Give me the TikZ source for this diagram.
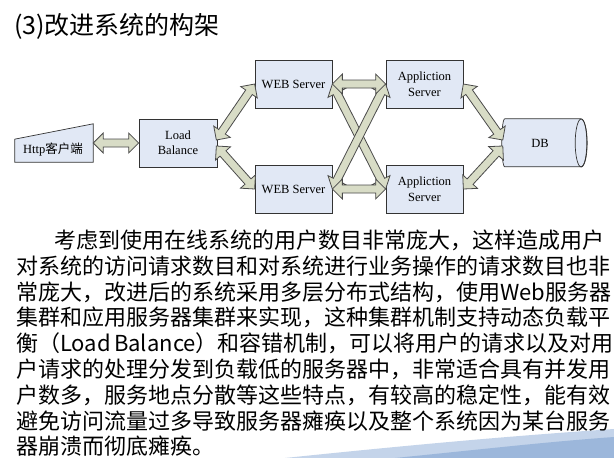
\documentclass[tikz,border=0pt]{standalone}
\usepackage{fontspec}
\setmainfont{Liberation Serif}
\newfontfamily\cjk{Noto Sans CJK SC}
\usetikzlibrary{calc}
\XeTeXlinebreaklocale "zh"
\XeTeXlinebreakskip=0pt plus 3pt
\definecolor{boxfill}{HTML}{E1E8F5}
\definecolor{arrfill}{HTML}{D8DCC6}
\definecolor{arrline}{HTML}{4A4A4A}
\definecolor{swA}{HTML}{C4D4EA}
\definecolor{swB}{HTML}{9CB7DB}
\tikzset{
  srv/.style={draw=black!80, fill=boxfill, line width=0.7pt, minimum width=77pt, minimum height=48pt,
    inner sep=0pt, align=center, font=\fontsize{12.5}{16}\selectfont},
  arrowsty/.style={draw=arrline, fill=arrfill, line width=0.8pt, line join=miter},
  para/.style={anchor=base west, inner sep=0pt, font=\cjk\fontsize{22}{26}\selectfont},
}
\newcommand\blkarrow[2]{%
  \path[arrowsty] let \p1=(#1), \p2=(#2),
    \n1={atan2(\y2-\y1,\x2-\x1)}, \n2={veclen(\x2-\x1,\y2-\y1)} in
    [shift={(\p1)}, rotate=\n1]
    (0,0) -- (10,10) -- (10,4) -- (\n2-10,4) -- (\n2-10,10) -- (\n2,0)
    -- (\n2-10,-10) -- (\n2-10,-4) -- (10,-4) -- (10,-10) -- cycle;}
\begin{document}
\begin{tikzpicture}[x=1pt,y=-1pt]
\useasboundingbox (0,0) rectangle (614,458);
\fill[white] (0,0) rectangle (614,458);

% decorative swoosh
\fill[swA] (285,458) .. controls (410,445) and (510,436) .. (614,429) -- (614,458) -- cycle;
\fill[swB] (395,458) .. controls (485,449) and (545,442) .. (614,437) -- (614,458) -- cycle;

% title
\node[anchor=base west, inner sep=0pt, font=\cjk\fontsize{25}{30}\selectfont] (title) at (14,34.5) {(3)改进系统的构架};

% client
\node[minimum width=78pt, minimum height=38pt, inner sep=0pt] (http) at (54,143) {};
\filldraw[draw=black!80, fill=boxfill, line width=0.7pt]
  (http.south west) -- ($(http.north west)!0.4!(http.south west)$) -- (http.north east) -- (http.south east) -- cycle;
\node[inner sep=0pt, font=\fontsize{12.5}{15}\selectfont] (httpl) at (53,150) {Http{\cjk 客户端}};

% servers
\node[srv, minimum width=78pt, font=\fontsize{12.5}{15}\selectfont] (lb) at (178,143) {Load\\Balance};
\node[srv] (web1) at (293.5,84) {WEB Server};
\node[srv] (web2) at (293.5,189) {WEB Server};
\node[srv] (app1) at (424.5,84) {Appliction\\Server};
\node[srv] (app2) at (424.5,189) {Appliction\\Server};

% DB cylinder
\node[minimum width=76pt, minimum height=48pt, inner sep=0pt] (db) at (540,143) {};
\filldraw[draw=black!80, fill=boxfill, line width=0.7pt]
  (db.north west) ++(3,0) -- ++(76,0) .. controls ++(8,0) and ++(8,0) .. ++(0,48) -- ++(-76,0)
  .. controls ++(-4,0) and ++(-4,0) .. ++(0,-48) -- cycle;
\draw[black!80, line width=0.7pt] ($(db.east)+(3,0)$) ellipse [x radius=6, y radius=24];
\node[inner sep=0pt, font=\fontsize{12.5}{15}\selectfont] (dbl) at (db.center) {DB};

% connectors
\coordinate (lbA) at ($(lb.east)+(-1,-3)$);
\coordinate (lbB) at ($(lb.east)+(-1,3)$);
\coordinate (dbA) at ($(db.west)+(1,-3)$);
\coordinate (dbB) at ($(db.west)+(1,3)$);
\blkarrow{http.east}{lb.west}
\blkarrow{lbA}{web1.west}
\blkarrow{lbB}{web2.west}
\blkarrow{web1.east}{app2.west}
\blkarrow{web2.east}{app1.west}
\blkarrow{web1.east}{app1.west}
\blkarrow{web2.east}{app2.west}
\blkarrow{app1.east}{dbA}
\blkarrow{app2.east}{dbB}

% paragraph
\node[para] (t1) at (54,248.4) {\makebox[558pt][s]{考虑到使用在线系统的用户数目非常庞大，这样造成用户}};
\node[para] (t2) at (16,274.2) {\makebox[597pt][s]{对系统的访问请求数目和对系统进行业务操作的请求数目也非}};
\node[para] (t3) at (16,300.0) {\makebox[597pt][s]{常庞大，改进后的系统采用多层分布式结构，使用Web服务器}};
\node[para] (t4) at (16,325.8) {\makebox[597pt][s]{集群和应用服务器集群来实现，这种集群机制支持动态负载平}};
\node[para] (t5) at (16,351.6) {\makebox[597pt][s]{衡（Load Balance）和容错机制，可以将用户的请求以及对用}};
\node[para] (t6) at (16,377.4) {\makebox[597pt][s]{户请求的处理分发到负载低的服务器中，非常适合具有并发用}};
\node[para] (t7) at (16,403.2) {\makebox[597pt][s]{户数多，服务地点分散等这些特点，有较高的稳定性，能有效}};
\node[para] (t8) at (16,429.0) {\makebox[597pt][s]{避免访问流量过多导致服务器瘫痪以及整个系统因为某台服务}};
\node[para] (t9) at (16,454.8) {器崩溃而彻底瘫痪。};
\end{tikzpicture}
\end{document}
